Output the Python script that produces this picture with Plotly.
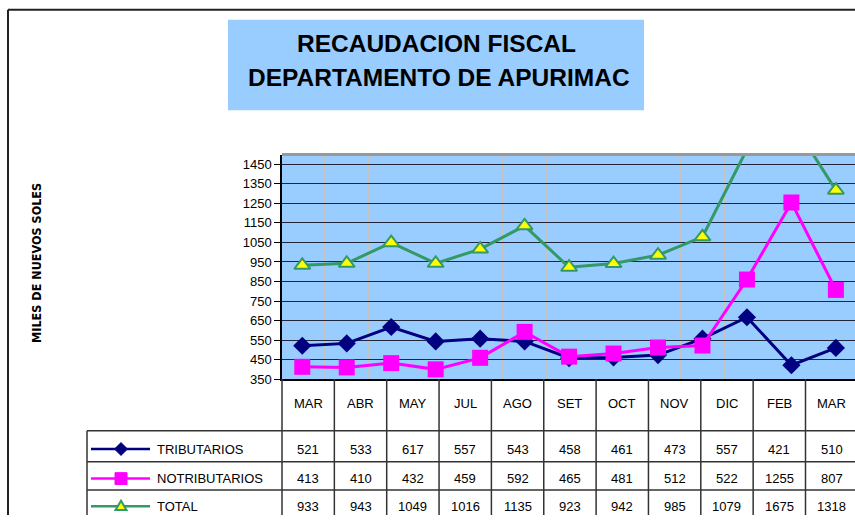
import plotly.graph_objects as go

# ---------------- data ----------------
chart_months = ["MAR", "ABR", "MAY", "JUN", "JUL", "AGO", "SET", "OCT", "NOV", "DIC", "ENE", "FEB", "MAR"]
tributarios = [521, 533, 617, 543, 557, 543, 458, 461, 473, 557, 667, 421, 510]
no_tributarios = [413, 410, 432, 400, 459, 592, 465, 481, 512, 522, 860, 1255, 807]
total = [933, 943, 1049, 943, 1016, 1135, 923, 942, 985, 1079, 1527, 1675, 1318]

table_months = ["MAR", "ABR", "MAY", "JUL", "AGO", "SET", "OCT", "NOV", "DIC", "FEB", "MAR"]
table_trib = [521, 533, 617, 557, 543, 458, 461, 473, 557, 421, 510]
table_notrib = [413, 410, 432, 459, 592, 465, 481, 512, 522, 1255, 807]
table_total = [933, 943, 1049, 1016, 1135, 923, 942, 985, 1079, 1675, 1318]

series_names = ["TRIBUTARIOS", "NOTRIBUTARIOS", "TOTAL"]
y_ticks = [350, 450, 550, 650, 750, 850, 950, 1050, 1150, 1250, 1350, 1450]

# ---------------- geometry helpers ----------------
W, H = 855, 523
def X(px):
    return px / W
def Y(py):
    return 1 - py / H

PLOT_L, PLOT_T, PLOT_B = 282, 157, 385
FONT = "Liberation Sans, Arial, sans-serif"

NAVY = "#000080"
MAGENTA = "#FF00FF"
GREEN = "#339966"
YELLOW = "#FFFF00"

styles = [
    dict(line=dict(color=NAVY, width=3), marker=dict(symbol="diamond", size=14, color=NAVY)),
    dict(line=dict(color=MAGENTA, width=3), marker=dict(symbol="square", size=16, color=MAGENTA)),
    dict(line=dict(color=GREEN, width=3),
         marker=dict(symbol="triangle-up", size=14, color=YELLOW, line=dict(color=GREEN, width=2))),
]

fig = go.Figure()
xs = list(range(len(chart_months)))
for name, vals, st in zip(series_names, [tributarios, no_tributarios, total], styles):
    fig.add_trace(go.Scatter(x=xs, y=vals, mode="lines+markers", name=name,
                             text=chart_months, line=st["line"], marker=st["marker"],
                             showlegend=False))

shapes = []
annotations = []

def pline(x0, y0, x1, y1, **line):
    shapes.append(dict(type="line", xref="paper", yref="paper", x0=X(x0), x1=X(x1), y0=Y(y0), y1=Y(y1),
                       line=line))

def ptext(x, y, text, font, xanchor="center", **kw):
    annotations.append(dict(x=X(x), y=Y(y), xref="paper", yref="paper", text=text, showarrow=False,
                            xanchor=xanchor, yanchor="middle", font=font, **kw))

# outer frame
pline(8, 10, 8, 523, color="#222222", width=2)
pline(8, 10, 855, 10, color="#222222", width=2)

# title box
shapes.append(dict(type="rect", xref="paper", yref="paper", x0=X(228), x1=X(644), y0=Y(112), y1=Y(20),
                   fillcolor="#99CCFF", line=dict(width=0), layer="below"))
title_font = dict(family=FONT, size=24.5, color="black")
ptext(437, 44, "<b>RECAUDACION FISCAL</b>", title_font)
ptext(439, 79, "<b>DEPARTAMENTO DE APURIMAC</b>", title_font)

# y axis title
ptext(37, 267, "<b>MILES DE NUEVOS SOLES</b>",
      dict(family="DejaVu Sans Condensed, Liberation Sans Narrow, Arial", size=12.5, color="black"),
      textangle=-90)

# top border of plot area
pline(PLOT_L, PLOT_T, 855, PLOT_T, color="#999999", width=3)

# ---------------- data table ----------------
COL_W = 52.35
TBL_LEFT = 87
ROW_LINES = [437.5, 469, 497.5]
LC, LW = "#333333", 1.5
n = len(table_months)
for k in range(1, n):
    cx = PLOT_L + k * COL_W
    pline(cx, PLOT_B, cx, 523, color=LC, width=LW)
pline(PLOT_L, PLOT_B, PLOT_L, 523, color=LC, width=LW)
pline(TBL_LEFT, ROW_LINES[0], TBL_LEFT, 523, color=LC, width=LW)
for ry in ROW_LINES:
    pline(TBL_LEFT, ry, 855, ry, color=LC, width=LW)

cell_font = dict(family=FONT, size=13, color="black")
row_centers = [456, 486, 514]
for i, mth in enumerate(table_months):
    cx = PLOT_L + (i + 0.5) * COL_W
    ptext(cx, 410, mth, cell_font)
    for vals, yc in zip([table_trib, table_notrib, table_total], row_centers):
        ptext(cx, yc, str(vals[i]), cell_font)
for name, yc in zip(series_names, row_centers):
    ptext(155, yc, name, cell_font, xanchor="left")

# legend keys in the table
def ppath(points):
    return "M " + " L ".join(f"{X(a)},{Y(b)}" for a, b in points) + " Z"

for st, yc in zip(styles, row_centers):
    pline(91, yc, 150, yc, color=st["line"]["color"], width=2.5)
    cx = 121
    sym = st["marker"]["symbol"]
    if sym == "diamond":
        shapes.append(dict(type="path", xref="paper", yref="paper",
                           path=ppath([(cx, yc - 6.5), (cx + 6.5, yc), (cx, yc + 6.5), (cx - 6.5, yc)]),
                           fillcolor=NAVY, line=dict(color=NAVY, width=1)))
    elif sym == "square":
        shapes.append(dict(type="rect", xref="paper", yref="paper", x0=X(cx - 6), x1=X(cx + 6),
                           y0=Y(yc + 6), y1=Y(yc - 6), fillcolor=MAGENTA, line=dict(color=MAGENTA, width=1)))
    else:
        shapes.append(dict(type="path", xref="paper", yref="paper",
                           path=ppath([(cx, yc - 5.5), (cx + 5.5, yc + 4), (cx - 5.5, yc + 4)]),
                           fillcolor=YELLOW, line=dict(color=GREEN, width=2)))

fig.update_layout(
    width=W, height=H,
    margin=dict(l=0, r=0, t=0, b=0),
    paper_bgcolor="white",
    plot_bgcolor="#99CCFF",
    xaxis=dict(domain=[X(PLOT_L), 1], range=[-0.456, 12.43], tickvals=[k + 0.5 for k in range(12)],
               showticklabels=False, ticks="", showgrid=True, gridcolor="#C4C4C4", gridwidth=1,
               zeroline=False, showline=True, linecolor="black", linewidth=1.5, fixedrange=True),
    yaxis=dict(domain=[Y(PLOT_B), Y(PLOT_T)], range=[350, 1500], tickvals=y_ticks,
               ticktext=[str(v) for v in y_ticks], ticks="outside", ticklen=6, tickcolor="black",
               tickfont=dict(family=FONT, size=13, color="black"), showgrid=True, gridcolor="#22263a",
               gridwidth=1.4, zeroline=False, showline=True, linecolor="black", linewidth=1.5,
               fixedrange=True),
    shapes=shapes,
    annotations=annotations,
)

post = (
    "document.documentElement.style.margin='0';document.documentElement.style.padding='0';"
    "document.documentElement.style.overflow='hidden';document.documentElement.style.height='523px';"
    "document.body.style.margin='0';document.body.style.padding='0';"
    "document.body.style.overflow='hidden';document.body.style.height='523px';"
    "var gd=document.getElementById('{plot_id}');"
    "if(gd&&gd.parentElement){gd.parentElement.style.height='523px';gd.parentElement.style.overflow='hidden';"
    "gd.parentElement.style.lineHeight='0';}"
)
fig.write_html("out.html", config={"displayModeBar": False}, post_script=post)
